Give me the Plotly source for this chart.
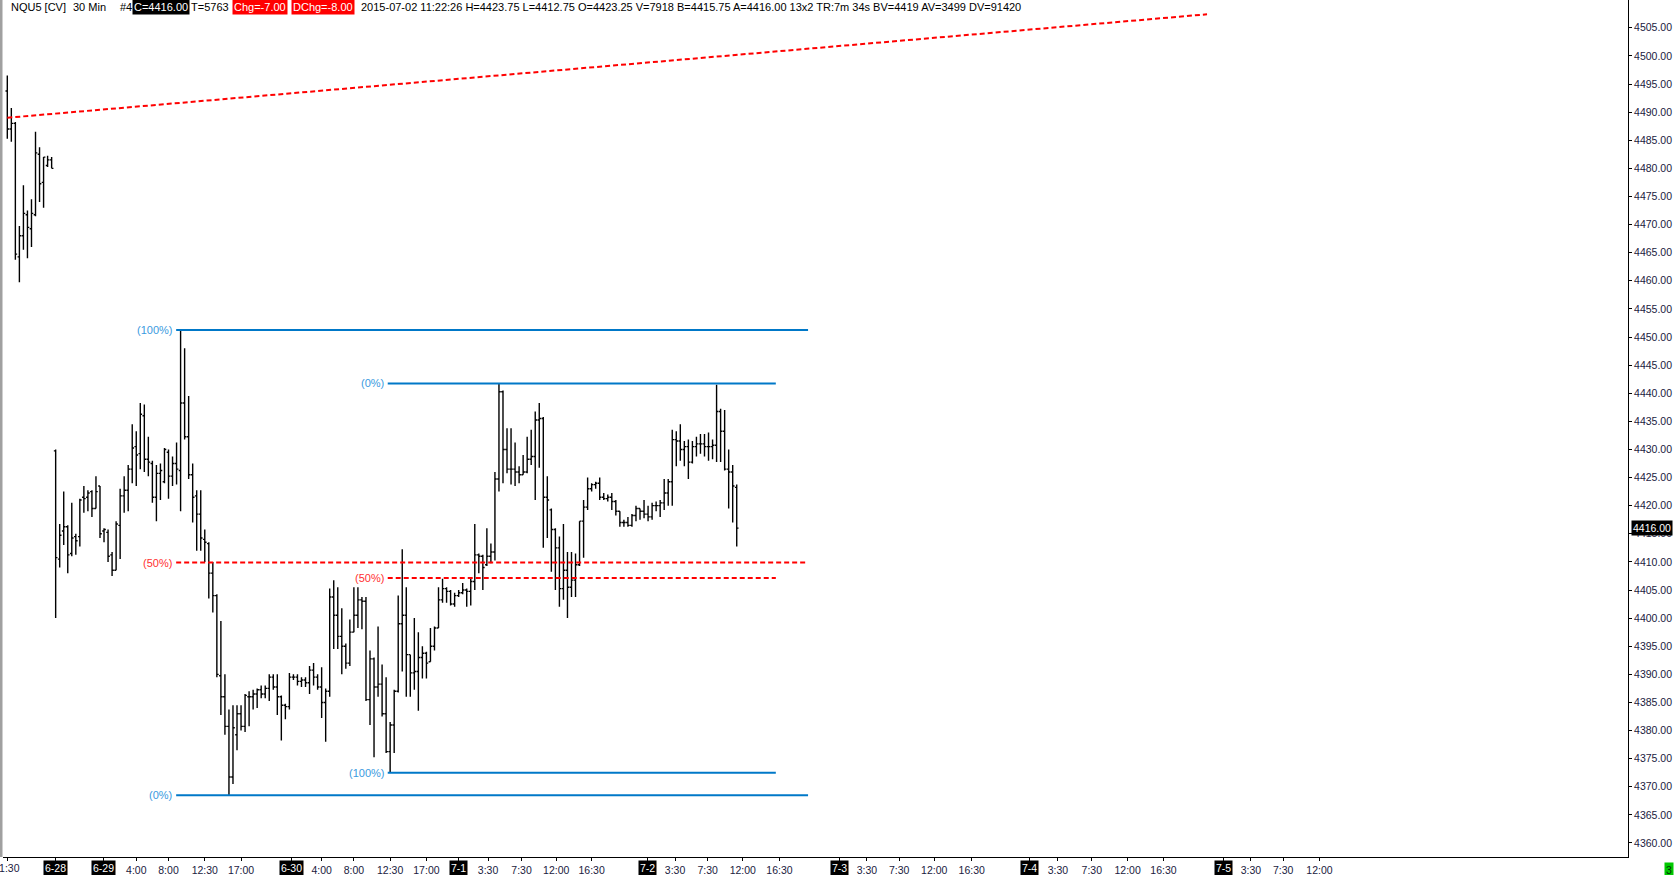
import plotly.graph_objects as go

# ---------------- data (30-min bars, NQU5) ----------------
opens = [4493.75, 4487.0, 4488.0, 4464.25, 4468.0, 4471.75, 4469.25, 4471.75, 4482.5, 4477.5, 4480.5, 4481.5,
         4429.75, 4410.5, 4415.5, 4416.25, 4411.5, 4414.5, 4414.5, 4421.5, 4421.5, 4422.5, 4419.5, 4423.5,
         4415.5, 4415.25, 4411.25, 4408.5, 4416.5, 4421.75, 4422.75, 4426.5, 4430.5, 4429.25, 4436.0, 4428.25,
         4427.5, 4421.5, 4425.75, 4424.25, 4429.5, 4425.25, 4427.5, 4426.25, 4438.25, 4432.25, 4425.5, 4421.75,
         4418.5, 4414.0, 4413.25, 4408.0, 4404.0, 4389.75, 4386.0, 4380.75, 4371.75, 4379.25, 4383.0, 4380.75,
         4386.0, 4386.0, 4386.5, 4387.25, 4386.5, 4387.5, 4389.5, 4387.75, 4386.0, 4384.5, 4384.25, 4389.5,
         4389.5, 4388.75, 4389.0, 4388.5, 4390.75, 4389.5, 4387.75, 4385.0, 4387.0, 4403.75, 4400.5, 4396.75,
         4395.0, 4392.0, 4397.5, 4400.5, 4403.25, 4403.0, 4385.5, 4392.75, 4387.75, 4388.25, 4383.0, 4376.25,
         4381.0, 4387.0, 4399.0, 4400.5, 4393.5, 4390.25, 4390.5, 4393.0, 4393.75, 4392.25, 4395.0, 4398.25,
         4403.25, 4405.25, 4404.75, 4402.5, 4404.0, 4404.5, 4405.0, 4404.75, 4406.5, 4411.25, 4411.0, 4409.5,
         4411.0, 4411.75, 4424.75, 4440.25, 4430.0, 4426.5, 4426.5, 4426.0, 4425.5, 4426.0, 4428.25, 4428.75,
         4435.25, 4435.5, 4421.5, 4419.25, 4415.75, 4412.5, 4405.25, 4408.5, 4405.5, 4406.75, 4409.5, 4417.25,
         4419.75, 4423.0, 4423.75, 4424.0, 4421.5, 4421.25, 4421.5, 4420.75, 4419.0, 4417.0, 4417.0, 4416.5,
         4418.25, 4419.5, 4419.0, 4418.5, 4418.0, 4420.0, 4420.0, 4420.5, 4422.25, 4424.25, 4431.75, 4431.5,
         4430.0, 4430.5, 4427.75, 4430.5, 4431.0, 4431.0, 4430.5, 4430.5, 4430.75, 4436.75, 4433.25, 4426.5,
         4426.0, 4423.25]
highs = [4496.5, 4490.75, 4488.25, 4469.75, 4477.0, 4472.5, 4474.5, 4486.5, 4483.75, 4482.0, 4482.25, 4482.0,
         4430.0, 4416.75, 4422.5, 4416.5, 4420.5, 4415.0, 4421.25, 4423.5, 4422.75, 4422.75, 4425.25, 4423.5,
         4416.0, 4415.75, 4411.75, 4417.25, 4423.0, 4425.25, 4427.25, 4434.5, 4433.25, 4438.25, 4438.0, 4432.25,
         4428.0, 4427.25, 4427.5, 4430.25, 4430.0, 4428.75, 4431.25, 4451.25, 4448.0, 4439.5, 4427.5, 4422.75,
         4422.75, 4415.75, 4413.5, 4410.0, 4404.25, 4399.5, 4390.0, 4383.75, 4384.5, 4384.5, 4384.5, 4386.5,
         4387.0, 4387.25, 4387.5, 4388.0, 4388.0, 4390.0, 4390.0, 4390.0, 4386.25, 4384.75, 4390.25, 4390.0,
         4390.0, 4389.5, 4389.5, 4391.5, 4392.0, 4390.0, 4391.25, 4387.5, 4405.25, 4406.75, 4405.5, 4401.75,
         4395.5, 4399.75, 4405.5, 4405.5, 4403.75, 4403.75, 4394.25, 4393.0, 4398.5, 4391.75, 4389.5, 4381.5,
         4387.25, 4404.0, 4412.25, 4405.5, 4393.5, 4400.0, 4397.5, 4395.0, 4394.0, 4398.25, 4398.5, 4405.5,
         4407.0, 4405.5, 4405.0, 4404.5, 4405.0, 4406.25, 4405.25, 4407.0, 4416.75, 4411.5, 4411.25, 4416.0,
         4413.25, 4426.0, 4441.75, 4440.5, 4433.75, 4433.75, 4431.25, 4427.0, 4429.0, 4432.25, 4433.5, 4436.75,
         4438.25, 4435.75, 4425.25, 4419.5, 4416.0, 4414.5, 4416.75, 4411.75, 4411.75, 4411.5, 4417.25, 4421.0,
         4425.0, 4424.0, 4424.25, 4425.0, 4422.25, 4422.0, 4422.25, 4421.0, 4419.0, 4417.5, 4418.0, 4418.5,
         4420.0, 4419.5, 4421.0, 4420.0, 4420.5, 4420.75, 4421.0, 4424.75, 4424.75, 4433.5, 4433.25, 4434.5,
         4431.5, 4431.75, 4431.5, 4432.25, 4432.75, 4432.75, 4433.0, 4431.75, 4441.5, 4437.25, 4437.0, 4430.0,
         4427.25, 4423.75]
lows = [4485.25, 4484.75, 4463.75, 4459.75, 4465.5, 4464.0, 4466.0, 4471.5, 4474.0, 4473.0, 4480.25, 4480.0,
        4400.0, 4409.0, 4413.0, 4408.0, 4411.0, 4411.25, 4412.75, 4418.75, 4419.0, 4418.0, 4419.5, 4414.25,
        4413.5, 4410.0, 4407.5, 4408.5, 4410.5, 4418.75, 4419.0, 4424.0, 4423.5, 4426.5, 4426.0, 4425.25,
        4420.5, 4417.25, 4421.0, 4424.0, 4421.25, 4423.5, 4423.75, 4419.0, 4431.75, 4424.75, 4417.0, 4412.0,
        4412.0, 4410.0, 4403.5, 4401.0, 4389.5, 4382.75, 4379.25, 4368.5, 4370.5, 4376.5, 4380.0, 4379.75,
        4380.75, 4383.75, 4384.0, 4385.75, 4385.75, 4385.25, 4387.25, 4382.75, 4378.25, 4382.0, 4383.75, 4389.0,
        4388.0, 4387.75, 4387.75, 4386.5, 4388.0, 4387.25, 4382.25, 4378.0, 4386.0, 4394.5, 4394.5, 4390.0,
        4391.0, 4391.5, 4397.5, 4398.25, 4398.0, 4385.25, 4381.0, 4375.25, 4386.0, 4382.5, 4376.0, 4372.5,
        4376.0, 4386.75, 4390.5, 4386.0, 4386.0, 4387.25, 4383.5, 4389.25, 4389.25, 4392.25, 4394.25, 4398.25,
        4402.75, 4402.75, 4402.25, 4402.0, 4403.75, 4404.25, 4402.0, 4402.25, 4405.0, 4408.0, 4405.0, 4409.25,
        4409.75, 4410.25, 4422.5, 4424.0, 4425.75, 4423.75, 4423.5, 4424.0, 4425.5, 4425.75, 4427.25, 4421.0,
        4426.75, 4412.5, 4414.25, 4408.25, 4405.0, 4402.0, 4403.25, 4400.0, 4403.75, 4403.75, 4409.25, 4410.75,
        4419.25, 4422.5, 4423.0, 4421.0, 4421.0, 4420.75, 4419.25, 4418.25, 4416.25, 4416.25, 4416.25, 4416.25,
        4417.25, 4417.5, 4417.75, 4417.25, 4417.5, 4419.0, 4418.0, 4419.25, 4420.0, 4420.0, 4427.0, 4428.0,
        4427.0, 4424.75, 4427.5, 4428.75, 4429.25, 4428.75, 4428.0, 4428.25, 4427.75, 4427.75, 4426.25, 4419.5,
        4417.0, 4412.75]
closes = [4487.0, 4488.0, 4464.75, 4468.0, 4472.0, 4469.5, 4472.0, 4482.75, 4477.25, 4482.0, 4481.5, 4480.0,
          4410.75, 4414.75, 4416.25, 4411.25, 4414.25, 4413.75, 4421.0, 4421.25, 4422.25, 4419.5, 4422.5, 4415.0,
          4415.75, 4411.0, 4408.5, 4416.75, 4421.75, 4422.75, 4426.5, 4430.25, 4429.0, 4436.25, 4428.25, 4427.75,
          4421.5, 4425.75, 4426.25, 4430.0, 4425.25, 4427.5, 4426.5, 4438.25, 4432.25, 4425.5, 4421.5, 4418.5,
          4414.25, 4413.5, 4408.0, 4404.0, 4390.0, 4386.0, 4380.75, 4371.75, 4380.5, 4383.0, 4380.75, 4386.25,
          4386.0, 4386.5, 4387.25, 4386.5, 4387.5, 4389.5, 4387.75, 4386.0, 4384.5, 4384.25, 4389.5, 4389.5,
          4388.75, 4389.0, 4388.5, 4390.75, 4389.5, 4387.75, 4385.0, 4387.0, 4403.75, 4400.5, 4396.75, 4395.0,
          4392.0, 4397.5, 4400.5, 4403.25, 4403.0, 4385.5, 4392.75, 4387.75, 4388.25, 4383.0, 4376.25, 4381.0,
          4387.0, 4399.0, 4400.5, 4393.5, 4390.25, 4390.5, 4393.0, 4393.75, 4392.0, 4395.0, 4398.25, 4403.25,
          4405.25, 4404.75, 4402.5, 4404.0, 4404.5, 4405.0, 4404.75, 4406.5, 4411.25, 4411.0, 4409.0, 4411.0,
          4411.75, 4424.75, 4440.25, 4430.0, 4426.5, 4426.5, 4426.0, 4425.5, 4426.0, 4428.25, 4428.75, 4435.25,
          4435.5, 4421.5, 4421.0, 4415.75, 4412.5, 4405.25, 4408.5, 4405.5, 4406.75, 4409.5, 4417.25, 4419.75,
          4423.0, 4423.75, 4424.0, 4421.5, 4421.25, 4421.5, 4420.75, 4419.0, 4417.0, 4417.0, 4416.5, 4418.25,
          4419.5, 4419.0, 4418.5, 4418.0, 4420.0, 4420.0, 4420.5, 4422.25, 4424.25, 4431.75, 4431.5, 4430.0,
          4430.5, 4427.75, 4430.5, 4431.0, 4431.0, 4430.5, 4430.5, 4430.75, 4436.75, 4433.25, 4426.5, 4426.0,
          4423.5, 4416.0]
bar_index = list(range(len(closes)))

# x-axis labels (positions in bar units)
time_tick_pos = [32, 40, 49, 58, 78, 86, 95, 104, 119.3, 127.6, 136.2, 145, 165.7, 173.8, 182.5, 191.6,
                 213.3, 221.3, 230, 239.3, 260.7, 269.1, 278, 286.9, 308.6, 316.6, 325.6]
time_tick_text = ["4:00", "8:00", "12:30", "17:00", "4:00", "8:00", "12:30", "17:00", "3:30", "7:30",
                  "12:00", "16:30", "3:30", "7:30", "12:00", "16:30", "3:30", "7:30", "12:00", "16:30",
                  "3:30", "7:30", "12:00", "16:30", "3:30", "7:30", "12:00"]
edge_tick_pos = [0]
edge_tick_text = ["11:30"]
date_tick_pos = [11.9, 23.9, 70.4, 112, 158.8, 206.5, 253.6, 301.8]
date_tick_text = ["6-28", "6-29", "6-30", "7-1", "7-2", "7-3", "7-4", "7-5"]

# y-axis labels
price_ticks = [4360 + 5 * k for k in range(30)]

# drawing tools
trend_x = [0, 297.7]
trend_y = [4489.0, 4507.4]
fib1_bars = [43, 55]          # swing high bar, swing low bar
fib1_span = [41.9, 198.7]
fib2_bars = [122, 95]         # swing high bar, swing low bar
fib2_span = [94.4, 190.7]

header_plain = [("NQU5 [CV]", 8.9), ("30 Min", 71.4), ("#4", 117.9), ("T=5763", 188.5),
                ("2015-07-02 11:22:26 H=4423.75 L=4412.75 O=4423.25 V=7918 B=4415.75 A=4416.00 13x2 "
                 "TR:7m 34s BV=4419 AV=3499 DV=91420", 359.0)]
header_boxes = [("C=4416.00", 132.0, "#000000"), ("Chg=-7.00", 232.0, "#ff0000"), ("DChg=-8.00", 291.0, "#ff0000")]

# ---------------- figure ----------------
W, H = 1678, 875
ML, MR, MT, MB = 3, 50, 0, 18
PW = W - ML - MR
BLUE = "#0078c8"
BLUE_TXT = "#3a9ae0"
RED = "#ff0000"
FONT = "Liberation Sans, Arial, sans-serif"
AXIS_TXT = "#1a1a40"

fig = go.Figure()
fig.add_trace(go.Ohlc(
    x=bar_index, open=opens, high=highs, low=lows, close=closes,
    increasing=dict(line=dict(color="#000000", width=1.4)),
    decreasing=dict(line=dict(color="#000000", width=1.4)),
    tickwidth=0.45, hoverinfo="skip", showlegend=False))

# trend line
fig.add_trace(go.Scatter(x=trend_x, y=trend_y, mode="lines",
                         line=dict(color=RED, width=2, dash="5px,3px"), hoverinfo="skip", showlegend=False))

annotations = []


def fib_levels(bars):
    hi = highs[bars[0]]
    lo = lows[bars[1]]
    return hi, lo, (hi + lo) / 2


f1_hi, f1_lo, f1_mid = fib_levels(fib1_bars)
f2_hi, f2_lo, f2_mid = fib_levels(fib2_bars)

fib_lines = [
    (fib1_span, f1_hi, "(100%)", BLUE, "solid"),
    (fib1_span, f1_mid, "(50%)", RED, "dash"),
    (fib1_span, f1_lo, "(0%)", BLUE, "solid"),
    (fib2_span, f2_hi, "(0%)", BLUE, "solid"),
    (fib2_span, f2_mid, "(50%)", RED, "dash"),
    (fib2_span, f2_lo, "(100%)", BLUE, "solid"),
]
for span, lvl, lab, col, style in fib_lines:
    fig.add_trace(go.Scatter(x=span, y=[lvl, lvl], mode="lines",
                             line=dict(color=col, width=2, dash=("5px,3px" if style == "dash" else "solid")),
                             hoverinfo="skip", showlegend=False))
    annotations.append(dict(x=span[0], y=lvl, xref="x", yref="y", text=lab, showarrow=False,
                            xanchor="right", yanchor="middle", xshift=-2,
                            font=dict(family=FONT, size=11, color=(BLUE_TXT if col == BLUE else "#ff3030"))))

# header texts
for txt, px in header_plain:
    annotations.append(dict(x=(px - ML) / PW, y=1, xref="paper", yref="paper", text=txt, showarrow=False,
                            xanchor="left", yanchor="top", yshift=1, borderpad=1,
                            font=dict(family=FONT, size=11, color="#000000")))
for txt, px, bg in header_boxes:
    annotations.append(dict(x=(px - ML) / PW, y=1, xref="paper", yref="paper", text=txt, showarrow=False,
                            xanchor="left", yanchor="top", yshift=1, bgcolor=bg, borderpad=1,
                            font=dict(family=FONT, size=11, color="#ffffff")))

# date labels on x axis
for pos, txt in zip(date_tick_pos, date_tick_text):
    annotations.append(dict(x=pos, y=0, xref="x", yref="paper", text=txt, showarrow=False,
                            xanchor="center", yanchor="top", yshift=-3, bgcolor="#000000", borderpad=1,
                            font=dict(family=FONT, size=10.5, color="#ffffff")))
# time label clipped at the left edge
for pos, txt in zip(edge_tick_pos, edge_tick_text):
    annotations.append(dict(x=pos, y=0, xref="x", yref="paper", text=txt, showarrow=False,
                            xanchor="center", yanchor="top", yshift=-3, borderpad=1,
                            font=dict(family=FONT, size=10.5, color=AXIS_TXT)))

# last price marker
annotations.append(dict(x=1, y=closes[-1], xref="paper", yref="y", text=f"{closes[-1]:.2f}", showarrow=False,
                        xanchor="left", yanchor="middle", xshift=3, bgcolor="#000000", borderpad=1,
                        font=dict(family=FONT, size=10.5, color="#ffffff")))
# status box
annotations.append(dict(x=(1664 - ML) / PW, y=0, xref="paper", yref="paper", text="3", showarrow=False,
                        xanchor="left", yanchor="top", yshift=-5, bgcolor="#00c800", borderpad=1,
                        font=dict(family=FONT, size=10.5, color="#003300")))

x_lo = (ML - 7.3) / 4.03
x_hi = (W - MR - 7.3) / 4.03
y_lo = 4505 - (H - MB - 27.8) / 5.622
y_hi = 4505 + 27.8 / 5.622

fig.update_layout(
    width=W, height=H,
    margin=dict(l=ML, r=MR, t=MT, b=MB, pad=0),
    paper_bgcolor="#ffffff", plot_bgcolor="#ffffff",
    font=dict(family=FONT, size=10.5, color=AXIS_TXT),
    showlegend=False,
    annotations=annotations,
    shapes=[dict(type="rect", xref="paper", yref="paper", x0=-ML / PW, x1=-0.5 / PW, y0=0, y1=1,
                 fillcolor="#a0a0a0", line=dict(width=0), layer="above")],
    xaxis=dict(range=[x_lo, x_hi], showgrid=False, zeroline=False, showline=True, linecolor="#000000",
               linewidth=1, ticks="outside", ticklen=3, tickcolor="#000000",
               tickvals=time_tick_pos + date_tick_pos + edge_tick_pos,
               ticktext=time_tick_text + [""] * (len(date_tick_pos) + len(edge_tick_pos)),
               tickfont=dict(family=FONT, size=10.5, color=AXIS_TXT),
               rangeslider=dict(visible=False), fixedrange=True),
    yaxis=dict(range=[y_lo, y_hi], side="right", showgrid=False, zeroline=False, showline=True,
               linecolor="#000000", linewidth=1, ticks="outside", ticklen=3, tickcolor="#000000",
               tickvals=price_ticks, tickformat=".2f",
               tickfont=dict(family=FONT, size=10.5, color=AXIS_TXT), fixedrange=True),
)

fig.write_html("out.html", config={"displayModeBar": False, "staticPlot": True},
               post_script="document.body.style.margin='0px';document.body.style.overflow='hidden';")
